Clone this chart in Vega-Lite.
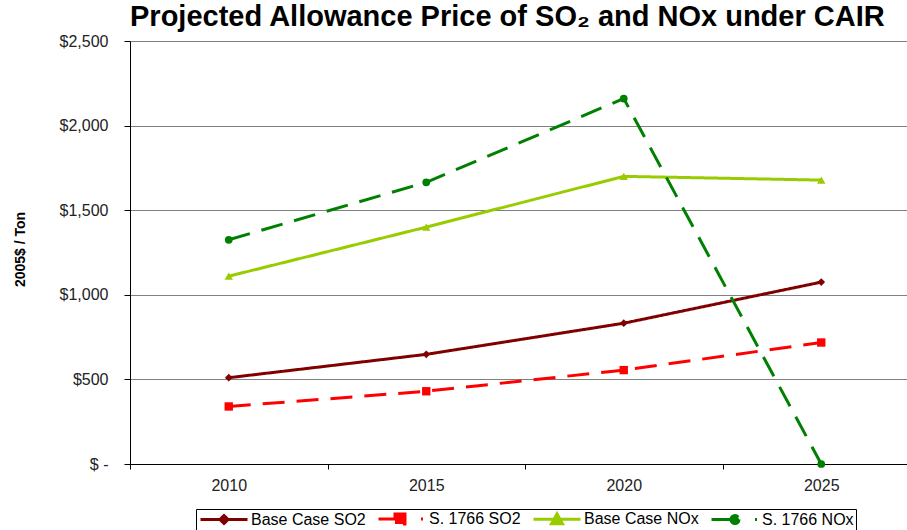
{
  "$schema": "https://vega.github.io/schema/vega-lite/v6.json",
  "width": 790,
  "height": 423,
  "autosize": {"type": "none"},
  "padding": {"left": 130, "top": 41, "right": 0, "bottom": 66},
  "background": "white",
  "title": {
    "text": "Projected Allowance Price of SO₂ and NOx under CAIR",
    "anchor": "start",
    "frame": "group",
    "font": "Liberation Sans",
    "fontSize": 29,
    "fontWeight": "bold",
    "color": "black",
    "offset": 1
  },
  "config": {
    "view": {"stroke": null},
    "axis": {"labelFont": "Liberation Sans", "titleFont": "Liberation Sans"},
    "legend": {"labelFont": "Liberation Sans"}
  },
  "data": {
    "values": [
      {"year": "2010", "series": "Base Case SO2", "value": 510},
      {"year": "2015", "series": "Base Case SO2", "value": 648},
      {"year": "2020", "series": "Base Case SO2", "value": 832},
      {"year": "2025", "series": "Base Case SO2", "value": 1075},
      {"year": "2010", "series": "S. 1766 SO2", "value": 340},
      {"year": "2015", "series": "S. 1766 SO2", "value": 430},
      {"year": "2020", "series": "S. 1766 SO2", "value": 555},
      {"year": "2025", "series": "S. 1766 SO2", "value": 718},
      {"year": "2010", "series": "Base Case NOx", "value": 1110},
      {"year": "2015", "series": "Base Case NOx", "value": 1400},
      {"year": "2020", "series": "Base Case NOx", "value": 1700},
      {"year": "2025", "series": "Base Case NOx", "value": 1678},
      {"year": "2010", "series": "S. 1766 NOx", "value": 1325},
      {"year": "2015", "series": "S. 1766 NOx", "value": 1665},
      {"year": "2020", "series": "S. 1766 NOx", "value": 2160},
      {"year": "2025", "series": "S. 1766 NOx", "value": 0}
    ]
  },
  "encoding": {
    "x": {
      "field": "year",
      "type": "ordinal",
      "bandPosition": 0.5,
      "scale": {"type": "band", "paddingInner": 0, "paddingOuter": 0},
      "axis": {
        "title": null,
        "labelAngle": 0,
        "tickBand": "extent",
        "tickSize": 5,
        "tickColor": "black",
        "domainColor": "black",
        "labelFontSize": 16,
        "labelColor": "#222",
        "labelPadding": 8,
        "grid": false
      }
    },
    "y": {
      "field": "value",
      "type": "quantitative",
      "scale": {"domain": [0, 2500], "nice": false},
      "axis": {
        "values": [0, 500, 1000, 1500, 2000, 2500],
        "labelExpr": "datum.value == 0 ? '$ -' : '$' + format(datum.value, ',')",
        "title": "2005$ / Ton",
        "titleFontSize": 14,
        "titleFontWeight": "bold",
        "titleColor": "black",
        "titleX": -110,
        "titleY": 208,
        "titleAngle": -90,
        "titleAlign": "center",
        "titleBaseline": "middle",
        "grid": true,
        "gridColor": "#808080",
        "gridOpacity": 1,
        "gridWidth": 1,
        "domainColor": "black",
        "tickColor": "black",
        "tickSize": 6,
        "labelPadding": 16,
        "labelFontSize": 16,
        "labelColor": "#222"
      }
    },
    "color": {
      "field": "series",
      "type": "nominal",
      "scale": {
        "domain": ["Base Case SO2", "S. 1766 SO2", "Base Case NOx", "S. 1766 NOx"],
        "range": ["#800000", "#FF0000", "#99CC00", "#008000"]
      }
    }
  },
  "layer": [
    {
      "mark": {"type": "line", "strokeWidth": 3},
      "encoding": {
        "strokeDash": {
          "field": "series",
          "type": "nominal",
          "legend": null,
          "scale": {
            "domain": ["Base Case SO2", "S. 1766 SO2", "Base Case NOx", "S. 1766 NOx"],
            "range": [[1, 0], [22, 12], [1, 0], [22, 12]]
          }
        },
        "color": {
          "field": "series",
          "type": "nominal",
          "legend": {
            "title": null,
            "orient": "none",
            "legendX": 66,
            "legendY": 468,
            "direction": "horizontal",
            "columns": 4,
            "strokeColor": "black",
            "padding": 2,
            "symbolSize": 100,
            "symbolOffset": 18,
            "labelOffset": 19,
            "columnPadding": 6,
            "labelFontSize": 16,
            "labelColor": "black",
            "encode": {
              "symbols": {
                "update": {
                  "shape": {"signal": "datum.value == 'Base Case SO2' ? 'M-4.7,0H4.7M0,-0.8L0.8,0L0,0.8L-0.8,0Z' : datum.value == 'S. 1766 SO2' ? 'M-4.7,0H-0.8M-1.4,-1H0.6V1H-1.4ZM3.8,0H4.2' : datum.value == 'Base Case NOx' ? 'M-4.7,0H4.7M0,-1.1L1.1,0.9H-1.1Z' : 'M-4.7,0H-0.8M0.8,0A0.8,0.8 0 1,1 -0.8,0A0.8,0.8 0 1,1 0.8,0ZM4,0H4.4'"},
                  "fill": {"scale": "color", "field": "value"},
                  "stroke": {"scale": "color", "field": "value"},
                  "strokeWidth": {"value": 3},
                  "strokeDash": {"value": []},
                  "opacity": {"value": 1}
                }
              }
            }
          }
        }
      }
    },
    {
      "transform": [{"filter": "datum.series == 'Base Case SO2'"}],
      "mark": {"type": "point", "shape": "diamond", "filled": true, "opacity": 1, "size": 60},
      "encoding": {"color": {"field": "series", "type": "nominal", "legend": null}}
    },
    {
      "transform": [{"filter": "datum.series == 'S. 1766 SO2'"}],
      "mark": {"type": "point", "shape": "square", "filled": true, "opacity": 1, "size": 70},
      "encoding": {"color": {"field": "series", "type": "nominal", "legend": null}}
    },
    {
      "transform": [{"filter": "datum.series == 'Base Case NOx'"}],
      "mark": {"type": "point", "shape": "triangle-up", "filled": true, "opacity": 1, "size": 70},
      "encoding": {"color": {"field": "series", "type": "nominal", "legend": null}}
    },
    {
      "transform": [{"filter": "datum.series == 'S. 1766 NOx'"}],
      "mark": {"type": "point", "shape": "circle", "filled": true, "opacity": 1, "size": 60},
      "encoding": {"color": {"field": "series", "type": "nominal", "legend": null}}
    }
  ]
}
